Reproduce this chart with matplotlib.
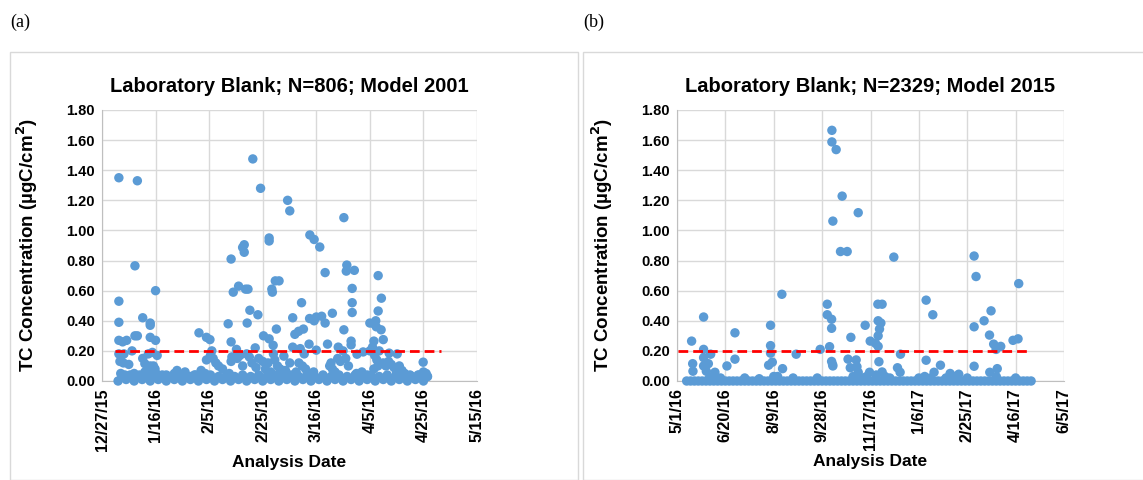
import numpy as np
import pandas as pd
import matplotlib
matplotlib.use('Agg')
import matplotlib.pyplot as plt
from matplotlib.patches import Rectangle

plt.rcParams['font.family'] = ['Liberation Sans', 'DejaVu Sans']

# ---- panel (a): Model 2001, days counted from 12/27/15
a_start = '2015-12-27'
a_day = [6.3, 13.2, 12.3, 6.3, 6.3, 20.0, 15.2, 18.0, 18.0, 12.3, 13.2, 6.3, 7.7, 9.2, 18.0, 20.0,
         11.2, 6.3, 7.3, 8.2, 6.7, 8.0, 10.0, 15.2, 16.0, 17.3, 18.8, 20.6, 19.2, 19.8,
         56.3, 59.2, 69.3, 70.1, 90.3, 62.4, 62.4, 77.6, 79.2, 81.3, 52.5, 53.1, 53.1, 48.2, 91.4,
         91.2, 94.2, 83.3, 103.1, 64.7, 66.1, 51.0, 53.6, 54.5, 63.4, 63.6, 49.0, 93.4, 104.3, 74.5,
         93.4, 93.4, 55.2, 103.1, 58.2, 86.0, 71.2, 77.5, 79.2, 80.0, 82.0, 83.3, 102.2, 100.0, 101.6,
         102.4, 54.2, 47.1, 75.2, 73.4, 72.0, 65.1, 90.3, 104.2, 36.2, 39.0, 40.3, 60.3, 62.4, 105.0,
         101.5, 48.2, 93.0, 93.0, 77.3, 84.2, 63.9, 71.2, 74.0, 50.2, 57.2, 88.2, 101.0, 80.0, 41.0,
         107.2, 110.2, 95.2, 97.5, 103.5, 67.9, 70.1, 119.9, 101.5, 39.0]
a_val = [1.35, 1.33, 0.765, 0.53, 0.39, 0.60, 0.42, 0.385, 0.37, 0.30, 0.30, 0.27, 0.26, 0.27, 0.29, 0.27,
         0.20, 0.18, 0.17, 0.18, 0.13, 0.12, 0.11, 0.15, 0.115, 0.18, 0.19, 0.17, 0.10, 0.08,
         1.475, 1.28, 1.20, 1.13, 1.085, 0.95, 0.93, 0.97, 0.94, 0.89, 0.887, 0.905, 0.855, 0.81, 0.77,
         0.73, 0.735, 0.72, 0.70, 0.665, 0.665, 0.63, 0.61, 0.61, 0.61, 0.59, 0.59, 0.615, 0.55, 0.52,
         0.52, 0.455, 0.47, 0.465, 0.44, 0.45, 0.42, 0.415, 0.40, 0.425, 0.43, 0.385, 0.40, 0.385, 0.38,
         0.36, 0.385, 0.38, 0.345, 0.33, 0.31, 0.345, 0.34, 0.34, 0.32, 0.29, 0.275, 0.30, 0.28, 0.275,
         0.265, 0.26, 0.265, 0.24, 0.245, 0.245, 0.237, 0.225, 0.215, 0.21, 0.22, 0.225, 0.225, 0.205, 0.20,
         0.185, 0.18, 0.178, 0.193, 0.20, 0.165, 0.12, 0.125, 0.08, 0.14]
a_low_day = [40.5, 41.5, 42.5, 43.5, 45, 47.5, 48.5, 48.2, 50.5, 51.5, 52.5, 54, 55, 56, 57.5, 58.5, 60,
             61, 62, 63, 64, 64.5, 65.5, 66.5, 67, 68.5, 72.5, 73.5, 74.8, 75.5, 76, 77, 79, 85, 85.5,
             86, 87, 88, 89, 90, 91, 92, 95, 97, 99, 100, 101.8, 102.6, 103, 105, 106, 107, 108, 109,
             110, 111, 112, 113, 115, 118, 120, 121, 121.5, 7, 8.5, 10, 12, 14, 16, 18, 19, 20.2, 21.5,
             24, 27, 28, 31, 33, 35, 37, 38.5]
a_low_val = [0.17, 0.15, 0.12, 0.10, 0.08, 0.05, 0.16, 0.13, 0.15, 0.17, 0.10, 0.18, 0.16, 0.12, 0.09,
             0.15, 0.13, 0.08, 0.12, 0.06, 0.18, 0.14, 0.10, 0.08, 0.05, 0.07, 0.06, 0.12, 0.10, 0.18,
             0.08, 0.05, 0.06, 0.10, 0.12, 0.08, 0.06, 0.15, 0.13, 0.20, 0.15, 0.10, 0.05, 0.06, 0.04,
             0.20, 0.17, 0.14, 0.10, 0.12, 0.10, 0.13, 0.11, 0.09, 0.06, 0.10, 0.07, 0.05, 0.04, 0.04,
             0.06, 0.05, 0.03, 0.05, 0.04, 0.03, 0.05, 0.04, 0.06, 0.10, 0.06, 0.05, 0.03, 0.04, 0.05,
             0.07, 0.06, 0.03, 0.04, 0.07, 0.05]
a_base_day = [6, 7.5, 9, 10.5, 12, 13.5, 15, 16.5, 18, 19.5, 21, 22.5, 24, 25.5, 27, 28.5, 30, 31.5, 33,
              34.5, 36, 37.5, 39, 40.5, 42, 43.5, 45, 46.5, 48, 49.5, 51, 52.5, 54, 55.5, 57, 58.5, 60,
              61.5, 63, 64.5, 66, 67.5, 69, 70.5, 72, 73.5, 75, 76.5, 78, 79.5, 81, 82.5, 84, 85.5, 87,
              88.5, 90, 91.5, 93, 94.5, 96, 97.5, 99, 100.5, 102, 103.5, 105, 106.5, 108, 109.5, 111,
              112.5, 114, 115.5, 117, 118.5, 120, 121.5]
a_base_val = [0.00, 0.03, 0.01, 0.04, 0.00, 0.03, 0.01, 0.04, 0.00, 0.03, 0.01, 0.04, 0.00, 0.03, 0.01,
              0.04, 0.00, 0.03, 0.01, 0.04, 0.00, 0.03, 0.01, 0.04, 0.00, 0.03, 0.01, 0.04, 0.00, 0.03,
              0.01, 0.04, 0.00, 0.03, 0.01, 0.04, 0.00, 0.03, 0.01, 0.04, 0.00, 0.03, 0.01, 0.04, 0.00,
              0.03, 0.01, 0.04, 0.00, 0.03, 0.01, 0.04, 0.00, 0.03, 0.01, 0.04, 0.00, 0.03, 0.01, 0.04,
              0.00, 0.03, 0.01, 0.04, 0.00, 0.03, 0.01, 0.04, 0.00, 0.03, 0.01, 0.04, 0.00, 0.03, 0.01,
              0.04, 0.00, 0.03]
a_limit_days = [4.8, 126.7]

# ---- panel (b): Model 2015, days counted from 5/1/16
b_start = '2016-05-01'
b_day = [160.1, 160.1, 164.5, 170.7, 187.3, 161.1, 169.0, 175.9, 224.1, 307.1, 309.1, 353.2, 108.4,
         257.5, 155.3, 207.6, 212.0, 324.6, 155.3, 159.8, 264.4, 27.5, 207.9, 210.7, 317.4, 96.7,
         194.5, 307.1, 159.8, 209.3, 59.9, 323.0, 179.7, 207.9, 347.3, 352.5, 15.1, 199.7, 205.2,
         327.3, 96.7, 334.6, 207.9, 157.7, 27.5, 148.0, 329.8, 96.7, 34.8, 123.2, 231.0, 27.5, 208.7,
         59.9, 257.5, 176.8, 185.2, 159.8, 160.8, 161.1, 98.5, 94.7, 16.2, 16.5, 27.5, 32.4, 30.3,
         51.6, 272.3, 307.1, 179.1, 186.0, 227.9, 331.0, 109.1, 265.7, 323.3, 39.2, 187.3, 230.6,
         199.0, 282.3, 291.2, 33.5, 37, 45, 70, 85, 100, 104, 120, 145, 182, 192, 196, 206, 212, 215,
         220, 250, 256, 262, 278, 286, 300, 330, 350]
b_val = [1.665, 1.588, 1.537, 1.228, 1.118, 1.062, 0.86, 0.86, 0.823, 0.83, 0.694, 0.647, 0.576,
         0.537, 0.51, 0.51, 0.51, 0.466, 0.44, 0.41, 0.44, 0.425, 0.40, 0.385, 0.40, 0.37,
         0.37, 0.36, 0.35, 0.345, 0.32, 0.305, 0.29, 0.30, 0.27, 0.28, 0.265, 0.265, 0.25,
         0.245, 0.235, 0.23, 0.23, 0.228, 0.21, 0.21, 0.21, 0.185, 0.178, 0.178, 0.178, 0.155, 0.128,
         0.145, 0.138, 0.145, 0.14, 0.13, 0.11, 0.10, 0.125, 0.105, 0.115, 0.065, 0.10, 0.115, 0.065,
         0.10, 0.105, 0.098, 0.088, 0.095, 0.088, 0.082, 0.082, 0.058, 0.058, 0.058, 0.058, 0.058,
         0.058, 0.05, 0.045, 0.02, 0.03, 0.02, 0.02, 0.015, 0.03, 0.03, 0.02, 0.02, 0.03, 0.02, 0.03,
         0.04, 0.06, 0.03, 0.02, 0.02, 0.03, 0.02, 0.02, 0.03, 0.02, 0.03, 0.02]
b_base_day = [10, 14, 18, 22, 26, 30, 34, 38, 42, 46, 50, 54, 58, 62, 66, 70, 74, 78, 82, 86, 90, 94,
              98, 102, 106, 110, 114, 118, 122, 126, 130, 134, 138, 142, 146, 150, 154, 158, 162, 166,
              170, 174, 178, 182, 186, 190, 194, 198, 202, 206, 210, 214, 218, 222, 226, 230, 234, 238,
              242, 246, 250, 254, 258, 262, 266, 270, 274, 278, 282, 286, 290, 294, 298, 302, 306, 310,
              314, 318, 322, 326, 330, 334, 338, 342, 346, 350, 354, 358, 362, 366]
b_base_val = [0.0] * len(b_base_day)
b_limit_days = [0.7, 365.6]

threshold = 0.20
blue = '#5B9BD5'
grid_c = '#D9D9D9'


def to_dates(start, days):
    return pd.Timestamp(start) + pd.to_timedelta(np.array(days, dtype=float), unit='D')


def draw_panel(ax, start, n_ticks, step, series, limit, title):
    for d, v in series:
        ax.scatter(to_dates(start, d), v, s=46, color=blue, edgecolors='none', zorder=3, clip_on=False)
    lim = to_dates(start, limit)
    ax.plot(lim, [threshold, threshold], color='#FF0000', lw=2, dashes=(3.5, 1.8), zorder=4)
    ticks = pd.date_range(start, periods=n_ticks, freq=f'{step}D')
    ax.set_xticks(ticks)
    ax.set_xticklabels([f'{t.month}/{t.day}/{t.year % 100}' for t in ticks],
                       rotation=90, fontsize=11.5, fontweight='bold')
    ax.set_xlim(ticks[0], ticks[-1])
    ax.set_ylim(0, 1.8)
    yt = np.arange(0, 1.81, 0.2)
    ax.set_yticks(yt)
    ax.set_yticklabels([f'{v:.2f}' for v in yt], fontsize=10.5, fontweight='bold')
    ax.grid(True, color=grid_c, lw=1)
    ax.set_axisbelow(True)
    ax.tick_params(length=0, pad=5)
    for s in ['top', 'right']:
        ax.spines[s].set_visible(False)
    for s in ['left', 'bottom']:
        ax.spines[s].set_color('#BFBFBF')
    ax.set_title(title, fontsize=14.5, fontweight='bold', pad=13)
    ax.set_xlabel('Analysis Date', fontsize=12.5, fontweight='bold', labelpad=3)
    ax.set_ylabel('TC Concentration (µgC/cm$^\\mathbf{2}$)', fontsize=13.5, fontweight='bold', labelpad=19)


fig = plt.figure(figsize=(11.43, 4.8), dpi=100)
fig.patches.append(Rectangle((10 / 1143, 0), 568 / 1143, 428 / 480, transform=fig.transFigure,
                             fill=False, edgecolor=grid_c, lw=1))
fig.patches.append(Rectangle((583 / 1143, 0), 570 / 1143, 428 / 480, transform=fig.transFigure,
                             fill=False, edgecolor=grid_c, lw=1))
fig.text(10 / 1143, 1 - 22 / 480, '(a)', family='Liberation Serif', fontsize=13, va='center')
fig.text(583 / 1143, 1 - 22 / 480, '(b)', family='Liberation Serif', fontsize=13, va='center')

ax1 = fig.add_axes([102 / 1143, 1 - 381 / 480, 375 / 1143, 271 / 480])
draw_panel(ax1, a_start, 8, 20,
           [(a_base_day, a_base_val), (a_low_day, a_low_val), (a_day, a_val)],
           a_limit_days, 'Laboratory Blank; N=806; Model 2001')

ax2 = fig.add_axes([677 / 1143, 1 - 381 / 480, 387 / 1143, 271 / 480])
draw_panel(ax2, b_start, 9, 50,
           [(b_base_day, b_base_val), (b_day, b_val)],
           b_limit_days, 'Laboratory Blank; N=2329; Model 2015')

fig.savefig('out.png', dpi=100)
